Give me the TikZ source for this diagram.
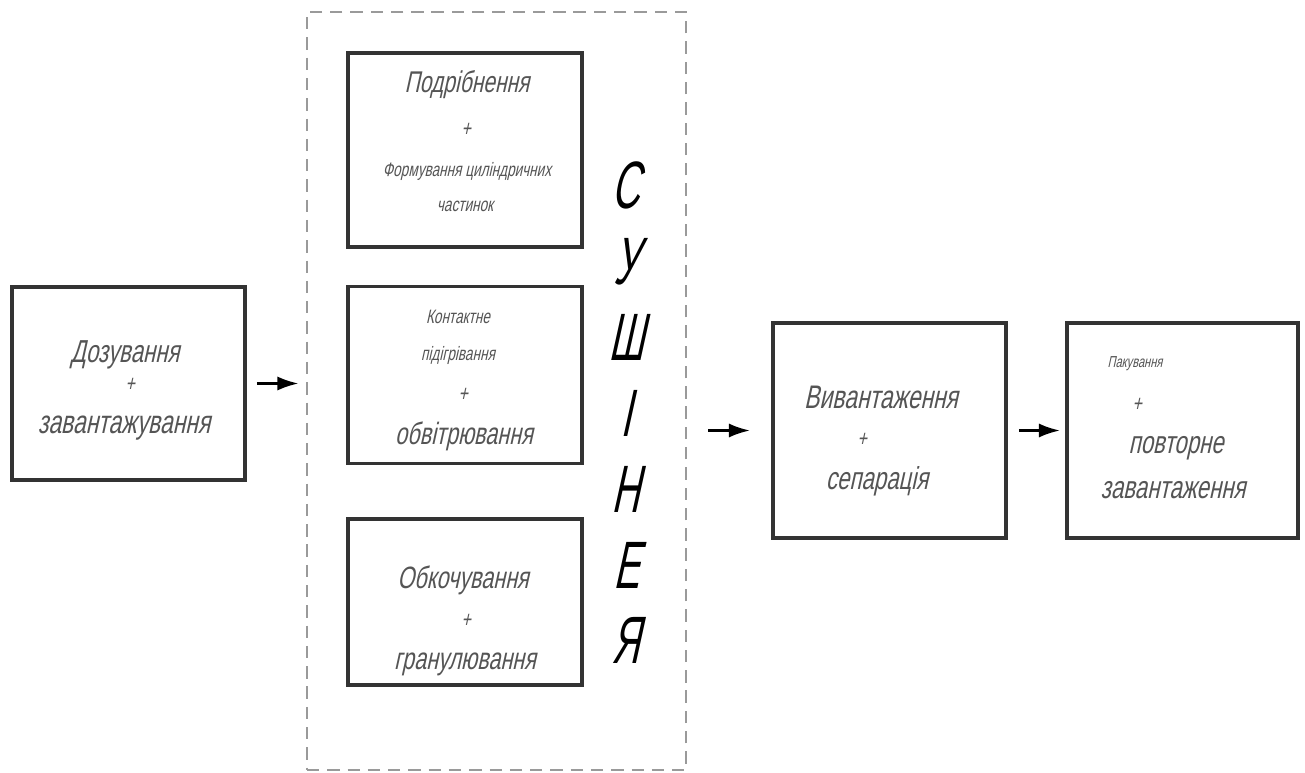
\documentclass[tikz,border=0pt]{standalone}
\usepackage{fontspec}
\setmainfont{Liberation Sans}
\newfontfamily\gost{Liberation Sans}[FakeSlant=0.22,FakeStretch=0.7]
\newfontfamily\gostn{Liberation Sans}[FakeSlant=0.22,FakeStretch=0.58]
\usetikzlibrary{arrows.meta}
\def\u{0.567pt}
\definecolor{boxline}{HTML}{333333}
\definecolor{txt}{HTML}{555555}
\definecolor{dashc}{HTML}{9A9A9A}
\tikzset{
  blk/.style={draw=boxline, line width=2.2pt, inner sep=0pt, fill=white},
  cont/.style={draw=dashc, line width=1.6pt, dash pattern=on 7pt off 4.5pt, inner sep=0pt},
  lbl/.style={text=txt, inner sep=0pt, font=\gost},
  arr/.style={draw=black, line width=1.5pt, -{Latex[length=12pt,width=8pt]}},
}
\newcommand{\fs}[1]{\fontsize{#1}{#1}\selectfont}
\begin{document}
\begin{tikzpicture}[x=0.567pt,y=-0.567pt]
\useasboundingbox (0,0) rectangle (1305,773);
% container
\node[cont, minimum width=379*\u, minimum height=758*\u] (cont) at (496.5,391) {};
% boxes
\node[blk, minimum width=233*\u, minimum height=193*\u] (dz) at (128.5,383.5) {};
\node[blk, minimum width=234*\u, minimum height=194*\u] (b1) at (465,150) {};
\node[blk, minimum width=234*\u, minimum height=177*\u] (b2) at (465,375) {};
\node[blk, minimum width=234*\u, minimum height=166*\u] (b3) at (465,602) {};
\node[blk, minimum width=233*\u, minimum height=215*\u] (vy) at (889.5,430.5) {};
\node[blk, minimum width=231*\u, minimum height=215*\u] (pk) at (1182.5,430.5) {};
% texts left
\node[lbl, font=\gost\fs{18}] (t1) at (125,355) {Дозування};
\node[lbl, font=\gost\fs{13}] (t2) at (130,385) {+};
\node[lbl, font=\gost\fs{18.5}] (t3) at (124,428) {завантажування};
% box1
\node[lbl, font=\gost\fs{17}] (t4) at (467,85) {Подрібнення};
\node[lbl, font=\gost\fs{13}] (t5) at (466,130) {+};
\node[lbl, font=\gost\fs{11}] (t6) at (467,171) {Формування циліндричних};
\node[lbl, font=\gost\fs{11}] (t7) at (465,206) {частинок};
% box2
\node[lbl, font=\gost\fs{11}] (t8) at (458,317) {Контактне};
\node[lbl, font=\gost\fs{11}] (t9) at (458,355) {підігрівання};
\node[lbl, font=\gost\fs{13}] (t10) at (463,395) {+};
\node[lbl, font=\gost\fs{17.5}] (t11) at (464,436) {обвітрювання};
% box3
\node[lbl, font=\gost\fs{17.5}] (t12) at (463,580) {Обкочування};
\node[lbl, font=\gost\fs{13}] (t13) at (466,621) {+};
\node[lbl, font=\gost\fs{17.5}] (t14) at (465,664) {гранулювання};
% vyvantazhennya
\node[lbl, font=\gost\fs{18.5}] (t15) at (881,397) {Вивантаження};
\node[lbl, font=\gost\fs{13}] (t16) at (862,440) {+};
\node[lbl, font=\gost\fs{18}] (t17) at (877,481) {сепарація};
% pakuvannya
\node[lbl, font=\gost\fs{9}] (t18) at (1135,364) {Пакування};
\node[lbl, font=\gost\fs{13}] (t19) at (1137,405) {+};
\node[lbl, font=\gost\fs{18}] (t20) at (1176,448) {повторне};
\node[lbl, font=\gost\fs{18}] (t21) at (1173,490) {завантаження};
% vertical word
\node[lbl, text=black, font=\gostn\fs{38}, align=center] (sush) at (626,413)
  {С\\[5pt]У\\[5pt]Ш\\[5pt]І\\[5pt]Н\\[5pt]Е\\[5pt]Я};
% arrows
\draw[arr, shorten <=10*\u, shorten >=7*\u] (dz.east) -- (dz.east -| cont.west);
\draw[arr, shorten <=21*\u, shorten >=21*\u] (vy.west -| cont.east) -- (vy.west);
\draw[arr, shorten <=11*\u, shorten >=5*\u] (vy.east) -- (pk.west);
\end{tikzpicture}
\end{document}
